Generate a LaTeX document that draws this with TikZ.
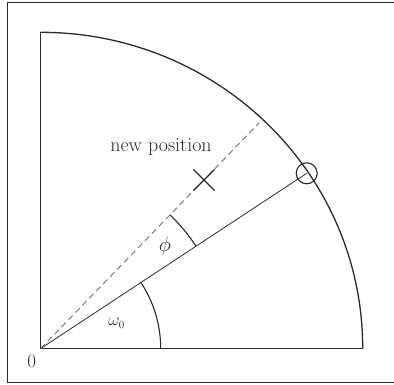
\documentclass[tikz,border=0pt]{standalone}
\usetikzlibrary{shapes.misc}
\definecolor{ink}{HTML}{2A2A2A}
\definecolor{dashink}{HTML}{707070}
\begin{document}
\begin{tikzpicture}[x=1pt,y=-1pt,
  frame/.style={draw=ink,line width=0.9pt},
  axis/.style={draw=ink,line width=1.3pt},
  radius line/.style={draw=ink,line width=0.8pt},
  dashline/.style={draw=dashink,line width=0.9pt,dash pattern=on 6pt off 4pt},
  anglearc/.style={draw=ink,line width=1.1pt},
  lbl/.style={text=ink,inner sep=0pt}]
\useasboundingbox (0,0) rectangle (394,384);
\draw[frame] (396,2.3) -- (7.3,2.3) -- (7.3,382.7) -- (396,382.7);
% axes and quadrant
\coordinate (O) at (40.7,348.5);
\coordinate (T) at (40.7,32.3);
\coordinate (R) at (362.7,348.5);
\draw[axis] (T) -- (O) -- (R);
\draw[axis] (T) arc[start angle=-90,end angle=0,x radius=322,y radius=316];
% solid radius to old position
\node[draw=ink,circle,line width=1.1pt,minimum size=21pt,inner sep=0pt] (P) at (306.7,173.3) {};
\draw[radius line] (O) -- (P.center);
% dashed radius to new position
\coordinate (D) at (259.3,122.7);
\draw[dashline] (O) -- (D);
\node[cross out,draw=ink,line width=1.1pt,minimum size=20pt,inner sep=0pt] (X) at (204,180) {};
% angle arcs
\draw[anglearc] ([shift={(O)}]0:120) arc[start angle=0,end angle=-33.37,radius=120];
\draw[anglearc] ([shift={(O)}]-33.37:186) arc[start angle=-33.37,end angle=-45.93,radius=186];
% labels
\node[lbl,font=\fontsize{20}{22}\selectfont] (newpos) at (161,147.3) {new position};
\node[lbl,font=\fontsize{20}{22}\selectfont] (phi) at (165,246.7) {$\phi$};
\node[lbl,font=\fontsize{16}{18}\selectfont] (om) at (116.7,323.3) {$\omega_0$};
\node[lbl,font=\fontsize{19}{21}\selectfont] (zero) at (31.7,361.7) {0};
\end{tikzpicture}
\end{document}
